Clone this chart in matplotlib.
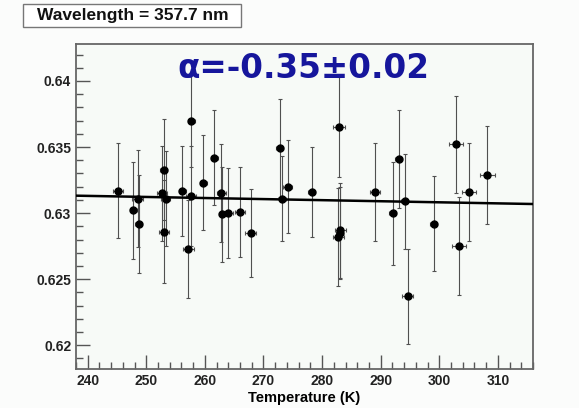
import numpy as np
import matplotlib.pyplot as plt
from matplotlib.patches import Rectangle
from matplotlib.ticker import MultipleLocator

# measured points (temperature in K, value, errors)
temps = [245.2, 247.8, 248.5, 248.7, 252.7, 253.0, 253.3, 253.0, 256.1, 257.6,
         257.7, 257.2, 259.7, 261.6, 262.8, 263.0, 263.9, 266.0, 267.8, 272.8,
         273.2, 274.1, 278.2, 282.9, 282.8, 283.1, 283.0, 289.0, 292.1, 293.1,
         294.1, 294.6, 299.1, 302.9, 303.3, 305.0, 308.2]
values = [0.6317, 0.6302, 0.6311, 0.6292, 0.6315, 0.6333, 0.6311, 0.6286, 0.6317, 0.6313,
          0.6370, 0.6273, 0.6323, 0.6342, 0.6315, 0.6299, 0.6300, 0.6301, 0.6285, 0.6349,
          0.6311, 0.6320, 0.6316, 0.6365, 0.6282, 0.6287, 0.6285, 0.6316, 0.6300, 0.6341,
          0.6309, 0.6237, 0.6292, 0.6352, 0.6275, 0.6316, 0.6329]
yerr = [0.0036, 0.0037, 0.0037, 0.0037, 0.0036, 0.0038, 0.0036, 0.0039, 0.0034, 0.0038,
        0.0035, 0.0037, 0.0036, 0.0036, 0.0037, 0.0036, 0.0034, 0.0034, 0.0033, 0.0037,
        0.0032, 0.0035, 0.0034, 0.0038, 0.0037, 0.0036, 0.0035, 0.0037, 0.0039, 0.0037,
        0.0036, 0.0036, 0.0036, 0.0037, 0.0037, 0.0037, 0.0037]
xerr = [0.9, 0.6, 0.9, 0.6, 0.8, 0.6, 0.8, 0.8, 0.6, 0.9,
        0.6, 0.9, 0.6, 0.6, 0.8, 0.6, 0.9, 0.8, 0.9, 0.6,
        0.6, 0.8, 0.6, 1.0, 0.9, 0.9, 0.6, 0.9, 0.6, 0.6,
        0.6, 0.9, 0.6, 1.2, 1.2, 1.2, 1.3]

# linear fit
fit_slope = -8.1e-6
fit_icpt = 0.63132 - fit_slope * 238.0

title_txt = 'Wavelength = 357.7 nm'
alpha_txt = 'α=-0.35±0.02'

plt.rcParams['font.family'] = ['Liberation Sans', 'DejaVu Sans']

W, H = 579, 408
fig = plt.figure(figsize=(W / 100, H / 100), dpi=100, facecolor='#fbfcfb')
ax = fig.add_axes([76 / W, 1 - 369 / H, (533 - 76) / W, (369 - 44) / H],
                  facecolor='#f7faf7')

ax.errorbar(temps, values, yerr=yerr, xerr=xerr, fmt='o', color='black',
            ecolor='#505050', elinewidth=0.8, capsize=1.5, capthick=0.8,
            markersize=5, zorder=3)

xf = np.array([238.0, 316.0])
ax.plot(xf, fit_icpt + fit_slope * xf, color='black', lw=1.8, zorder=4)

ax.set_xlim(238.0, 316.0)
ax.set_ylim(0.6182, 0.6428)
ax.xaxis.set_major_locator(MultipleLocator(10))
ax.xaxis.set_minor_locator(MultipleLocator(2))
ax.yaxis.set_minor_locator(MultipleLocator(0.001))
ax.set_yticks([0.62, 0.625, 0.63, 0.635, 0.64])
ax.set_yticklabels(['0.62', '0.625', '0.63', '0.635', '0.64'])
ax.tick_params(which='both', direction='in', color='#555555', labelsize=10,
               top=False, right=False)
ax.tick_params(which='major', length=10, width=1)
ax.tick_params(which='minor', length=5, width=1)
for lab in ax.get_xticklabels() + ax.get_yticklabels():
    lab.set_fontweight('bold')
    lab.set_color('#222222')
for s in ax.spines.values():
    s.set_color('#666666')
    s.set_linewidth(1.3)

ax.set_xlabel('Temperature (K)', fontsize=10.5, fontweight='bold', labelpad=2)

ax.text(0.222, 0.925, alpha_txt, transform=ax.transAxes, fontsize=23.5,
        fontweight='bold', color='#16169c', ha='left', va='center',
        family=['DejaVu Sans'])

# title box
fig.patches.append(Rectangle((23 / W, 1 - 27 / H), 218 / W, 23 / H,
                             transform=fig.transFigure, fc='white',
                             ec='#777777', lw=1))
fig.text(133 / W, 1 - 15.5 / H, title_txt, ha='center', va='center',
         fontsize=12.5, fontweight='bold', color='#111111')

fig.savefig('out.png', dpi=100, facecolor=fig.get_facecolor())
